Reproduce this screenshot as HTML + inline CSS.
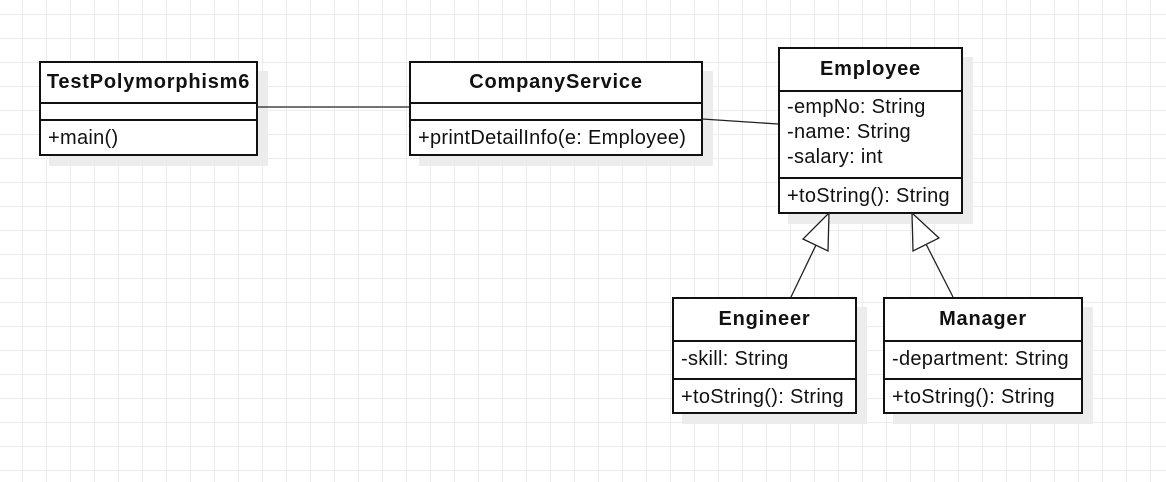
<!DOCTYPE html>
<html><head><meta charset="utf-8"><style>
html,body{margin:0;padding:0;}
body{width:1166px;height:482px;overflow:hidden;background:#fff;
background-image:linear-gradient(#ececec 1px,transparent 1px),linear-gradient(90deg,#ececec 1px,transparent 1px);
background-size:24px 24px;background-position:22px 14px;font-family:"Liberation Sans",sans-serif;}
.b{position:absolute;border:2px solid #111;background:#fff;box-shadow:10px 10px 0 #ececec;box-sizing:border-box;white-space:nowrap;}
.s{border-bottom:2px solid #111;box-sizing:border-box;font-size:20px;color:#111;letter-spacing:0.3px;}
.t{font-weight:bold;text-align:center;letter-spacing:0.8px;}
.a{padding-left:7px;line-height:25px;}
svg{position:absolute;left:0;top:0;z-index:5;}
</style></head><body>
<svg width="1166" height="482">
<line x1="257" y1="107" x2="409" y2="107" stroke="#222" stroke-width="1.3"/>
<line x1="702" y1="119" x2="778" y2="124" stroke="#222" stroke-width="1.3"/>
<line x1="791" y1="297" x2="816" y2="245" stroke="#222" stroke-width="1.3"/>
<polygon points="829,213 803,239 828,251" fill="#fff" stroke="#222" stroke-width="1.3"/>
<line x1="953" y1="297" x2="926" y2="244" stroke="#222" stroke-width="1.3"/>
<polygon points="912,213 913,251 939,238" fill="#fff" stroke="#222" stroke-width="1.3"/>
</svg>
<div class="b" style="left:39px;top:61px;width:219px;height:95px">
<div class="s t" style="height:41px;line-height:39px">TestPolymorphism6</div>
<div class="s" style="height:17px"></div>
<div class="s a" style="border:none;line-height:34px">+main()</div></div>
<div class="b" style="left:409px;top:61px;width:294px;height:95px">
<div class="s t" style="height:41px;line-height:39px">CompanyService</div>
<div class="s" style="height:17px"></div>
<div class="s a" style="border:none;line-height:34px">+printDetailInfo(e: Employee)</div></div>
<div class="b" style="left:778px;top:47px;width:185px;height:167px">
<div class="s t" style="height:43px;line-height:41px">Employee</div>
<div class="s a" style="height:87px;padding-top:3px">-empNo: String<br>-name: String<br>-salary: int</div>
<div class="s a" style="border:none;line-height:34px">+toString(): String</div></div>
<div class="b" style="left:672px;top:297px;width:185px;height:117px">
<div class="s t" style="height:43px;line-height:41px">Engineer</div>
<div class="s a" style="height:38px;line-height:34px">-skill: String</div>
<div class="s a" style="border:none;line-height:34px">+toString(): String</div></div>
<div class="b" style="left:883px;top:297px;width:200px;height:117px">
<div class="s t" style="height:43px;line-height:41px">Manager</div>
<div class="s a" style="height:38px;line-height:34px">-department: String</div>
<div class="s a" style="border:none;line-height:34px">+toString(): String</div></div>
</body></html>
